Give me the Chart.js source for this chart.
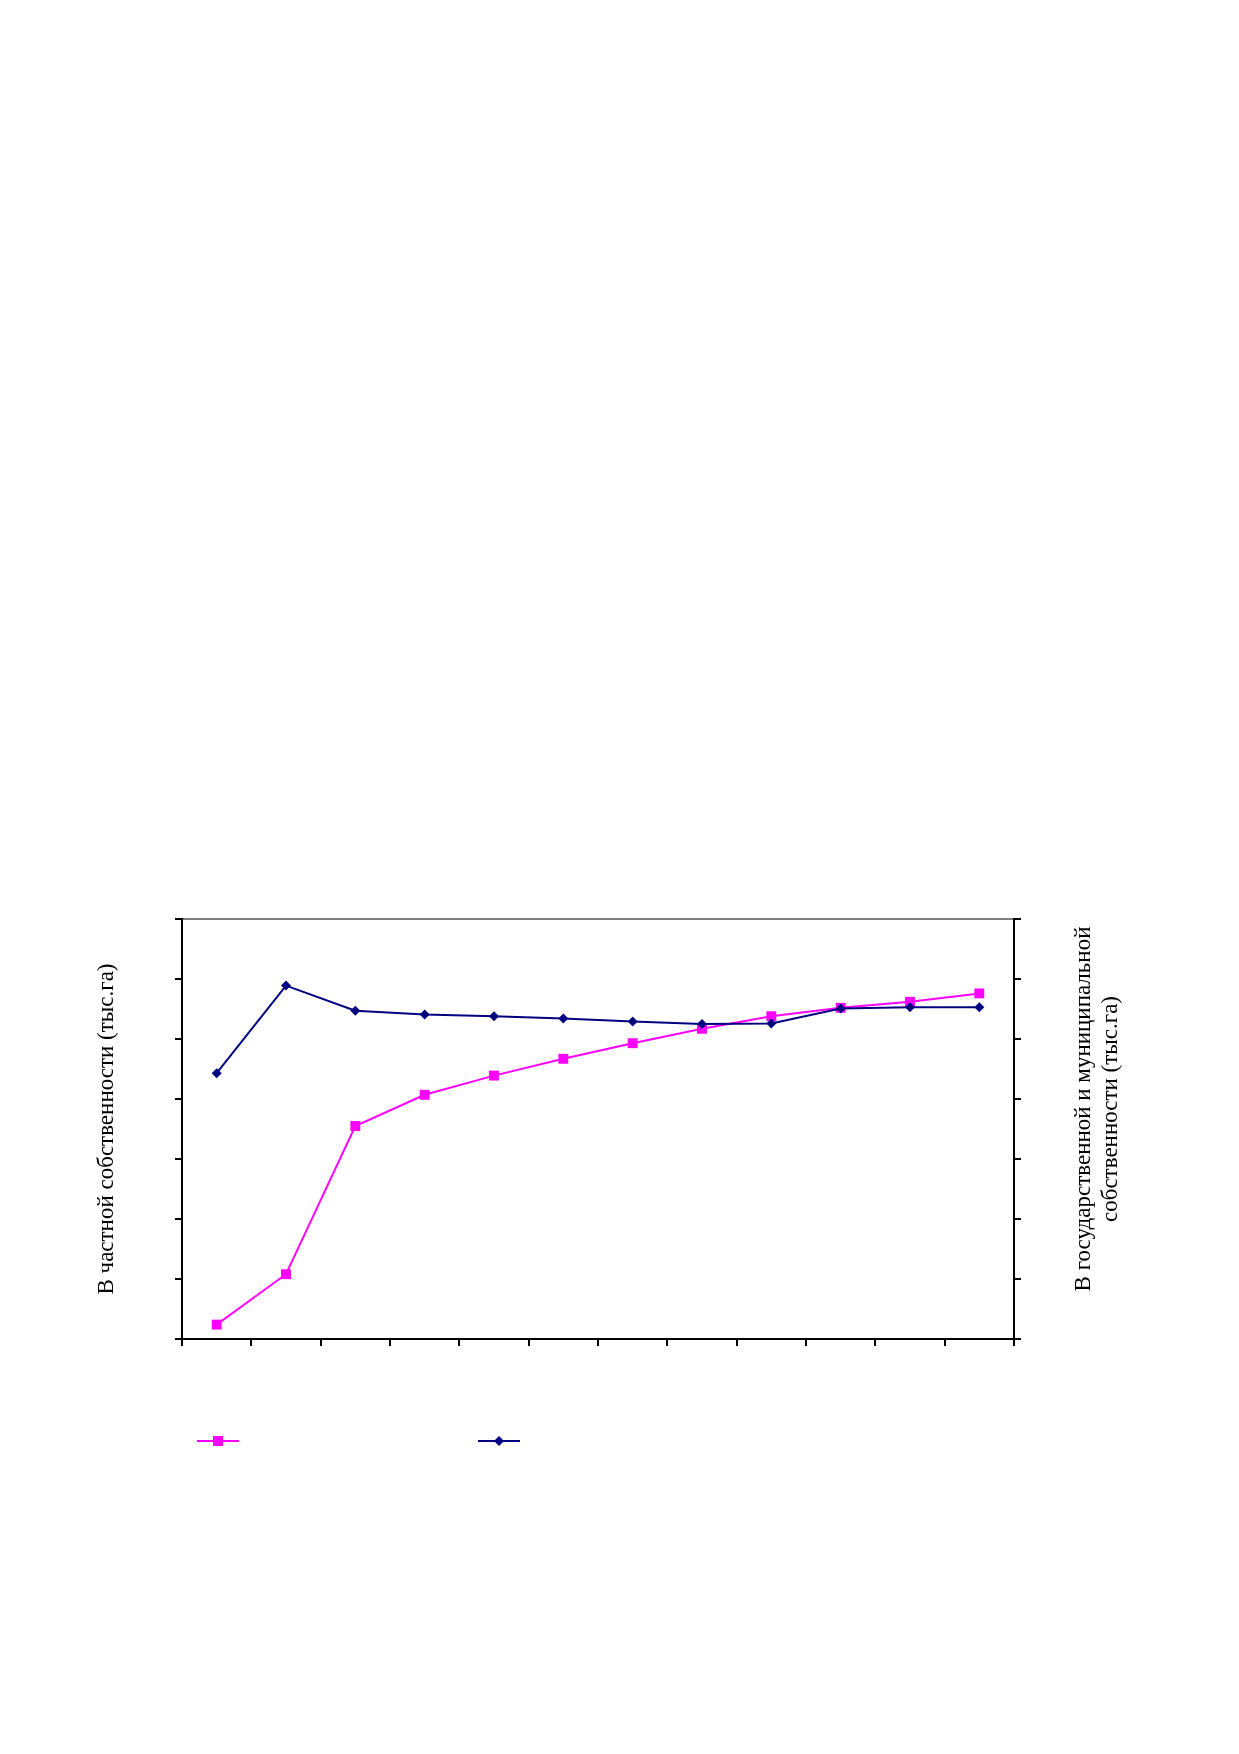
<!DOCTYPE html>
<html>
<head>
<meta charset="utf-8">
<script src="https://cdn.jsdelivr.net/npm/chart.js@4/dist/chart.umd.min.js"></script>
<style>
  body { margin: 0; background: #fff; }
  #chart { position: absolute; left: 0; top: 0; }
</style>
</head>
<body>
<canvas id="chart" width="1239" height="1754"></canvas>
<script>
// values, in units of one y-axis tick interval (no tick labels shown)
const categories = ["1", "2", "3", "4", "5", "6", "7", "8", "9", "10", "11", "12"];
const privateLand = [0.24, 1.08, 3.55, 4.07, 4.39, 4.67, 4.93, 5.17, 5.38, 5.52, 5.62, 5.76];
const stateLand = [4.43, 5.89, 5.47, 5.41, 5.38, 5.34, 5.29, 5.25, 5.26, 5.51, 5.53, 5.53];
const yTicksMax = 7;

const leftTitle = "В частной собственности (тыс.га)";
const rightTitle = ["В государственной и муниципальной", "собственности (тыс.га)"];

const PINK = "#ff00ff";
const NAVY = "#000080";
const FONT = "23px 'Liberation Serif', 'Times New Roman', serif";

// right axis title reads bottom-to-top like the left one, and the legend has samples only
const extras = {
  id: "extras",
  afterDraw(chart) {
    const ctx = chart.ctx;
    const area = chart.chartArea;
    ctx.save();
    ctx.fillStyle = "#000";
    ctx.font = FONT;
    ctx.textAlign = "center";
    ctx.textBaseline = "middle";
    const midY = (area.top + area.bottom) / 2 - 20;
    rightTitle.forEach(function (line, i) {
      ctx.save();
      ctx.translate(area.right + 70 + i * 27, midY);
      ctx.rotate(-Math.PI / 2);
      ctx.fillText(line, 0, 0);
      ctx.restore();
    });

    // legend samples: line with the series marker
    const legendY = area.bottom + 102;
    const items = [
      { ds: chart.data.datasets[1], x: area.left + 15 },
      { ds: chart.data.datasets[0], x: area.left + 296 }
    ];
    items.forEach(function (it) {
      ctx.strokeStyle = it.ds.borderColor;
      ctx.lineWidth = 2;
      ctx.beginPath();
      ctx.moveTo(it.x, legendY);
      ctx.lineTo(it.x + 42, legendY);
      ctx.stroke();
      const cx = it.x + 21;
      ctx.fillStyle = it.ds.pointBackgroundColor;
      ctx.beginPath();
      if (it.ds.pointStyle === "rect") {
        ctx.rect(cx - 5, legendY - 5, 10, 10);
      } else {
        ctx.moveTo(cx - 5, legendY);
        ctx.lineTo(cx, legendY - 5);
        ctx.lineTo(cx + 5, legendY);
        ctx.lineTo(cx, legendY + 5);
        ctx.closePath();
      }
      ctx.fill();
    });
    ctx.restore();
  }
};

const ctx = document.getElementById("chart").getContext("2d");
const chart = new Chart(ctx, {
  type: "line",
  data: {
    labels: categories,
    datasets: [
      {
        label: rightTitle.join(" "),
        data: stateLand,
        yAxisID: "y2",
        order: 0,
        borderColor: NAVY,
        backgroundColor: NAVY,
        borderWidth: 2,
        pointStyle: "rectRot",
        pointRadius: 5,
        pointBorderWidth: 0,
        pointBackgroundColor: NAVY,
        pointBorderColor: NAVY,
        tension: 0
      },
      {
        label: leftTitle,
        data: privateLand,
        yAxisID: "y",
        order: 1,
        borderColor: PINK,
        backgroundColor: PINK,
        borderWidth: 2,
        pointStyle: "rect",
        pointRadius: 7,
        pointBorderWidth: 0,
        pointBackgroundColor: PINK,
        pointBorderColor: PINK,
        tension: 0
      }
    ]
  },
  options: {
    responsive: false,
    animation: false,
    layout: { padding: { left: 93, top: 919, right: 195, bottom: 395 } },
    plugins: {
      legend: { display: false },
      tooltip: { enabled: false }
    },
    scales: {
      x: {
        offset: true,
        grid: {
          offset: true,
          drawOnChartArea: false,
          tickLength: 7,
          tickColor: "#000",
          lineWidth: 2
        },
        border: { color: "#000", width: 2 },
        ticks: { display: false },
        afterFit: function (scale) { scale.height = 20; }
      },
      y: {
        position: "left",
        min: 0,
        max: yTicksMax,
        grid: {
          color: function (c) { return c.tick && c.tick.value === yTicksMax ? "#808080" : "rgba(0,0,0,0)"; },
          tickColor: "#000",
          tickLength: 7,
          lineWidth: 2
        },
        border: { color: "#000", width: 2 },
        ticks: { display: false, stepSize: 1 },
        title: {
          display: true,
          text: leftTitle,
          color: "#000",
          font: { family: "'Liberation Serif', 'Times New Roman', serif", size: 23 },
          padding: 0
        },
        afterFit: function (scale) { scale.width = 89; }
      },
      y2: {
        position: "right",
        min: 0,
        max: yTicksMax,
        grid: {
          drawOnChartArea: false,
          tickColor: "#000",
          tickLength: 7,
          lineWidth: 2
        },
        border: { color: "#000", width: 2 },
        ticks: { display: false, stepSize: 1 },
        afterFit: function (scale) { scale.width = 30; }
      }
    }
  },
  plugins: [extras]
});
</script>
</body>
</html>
